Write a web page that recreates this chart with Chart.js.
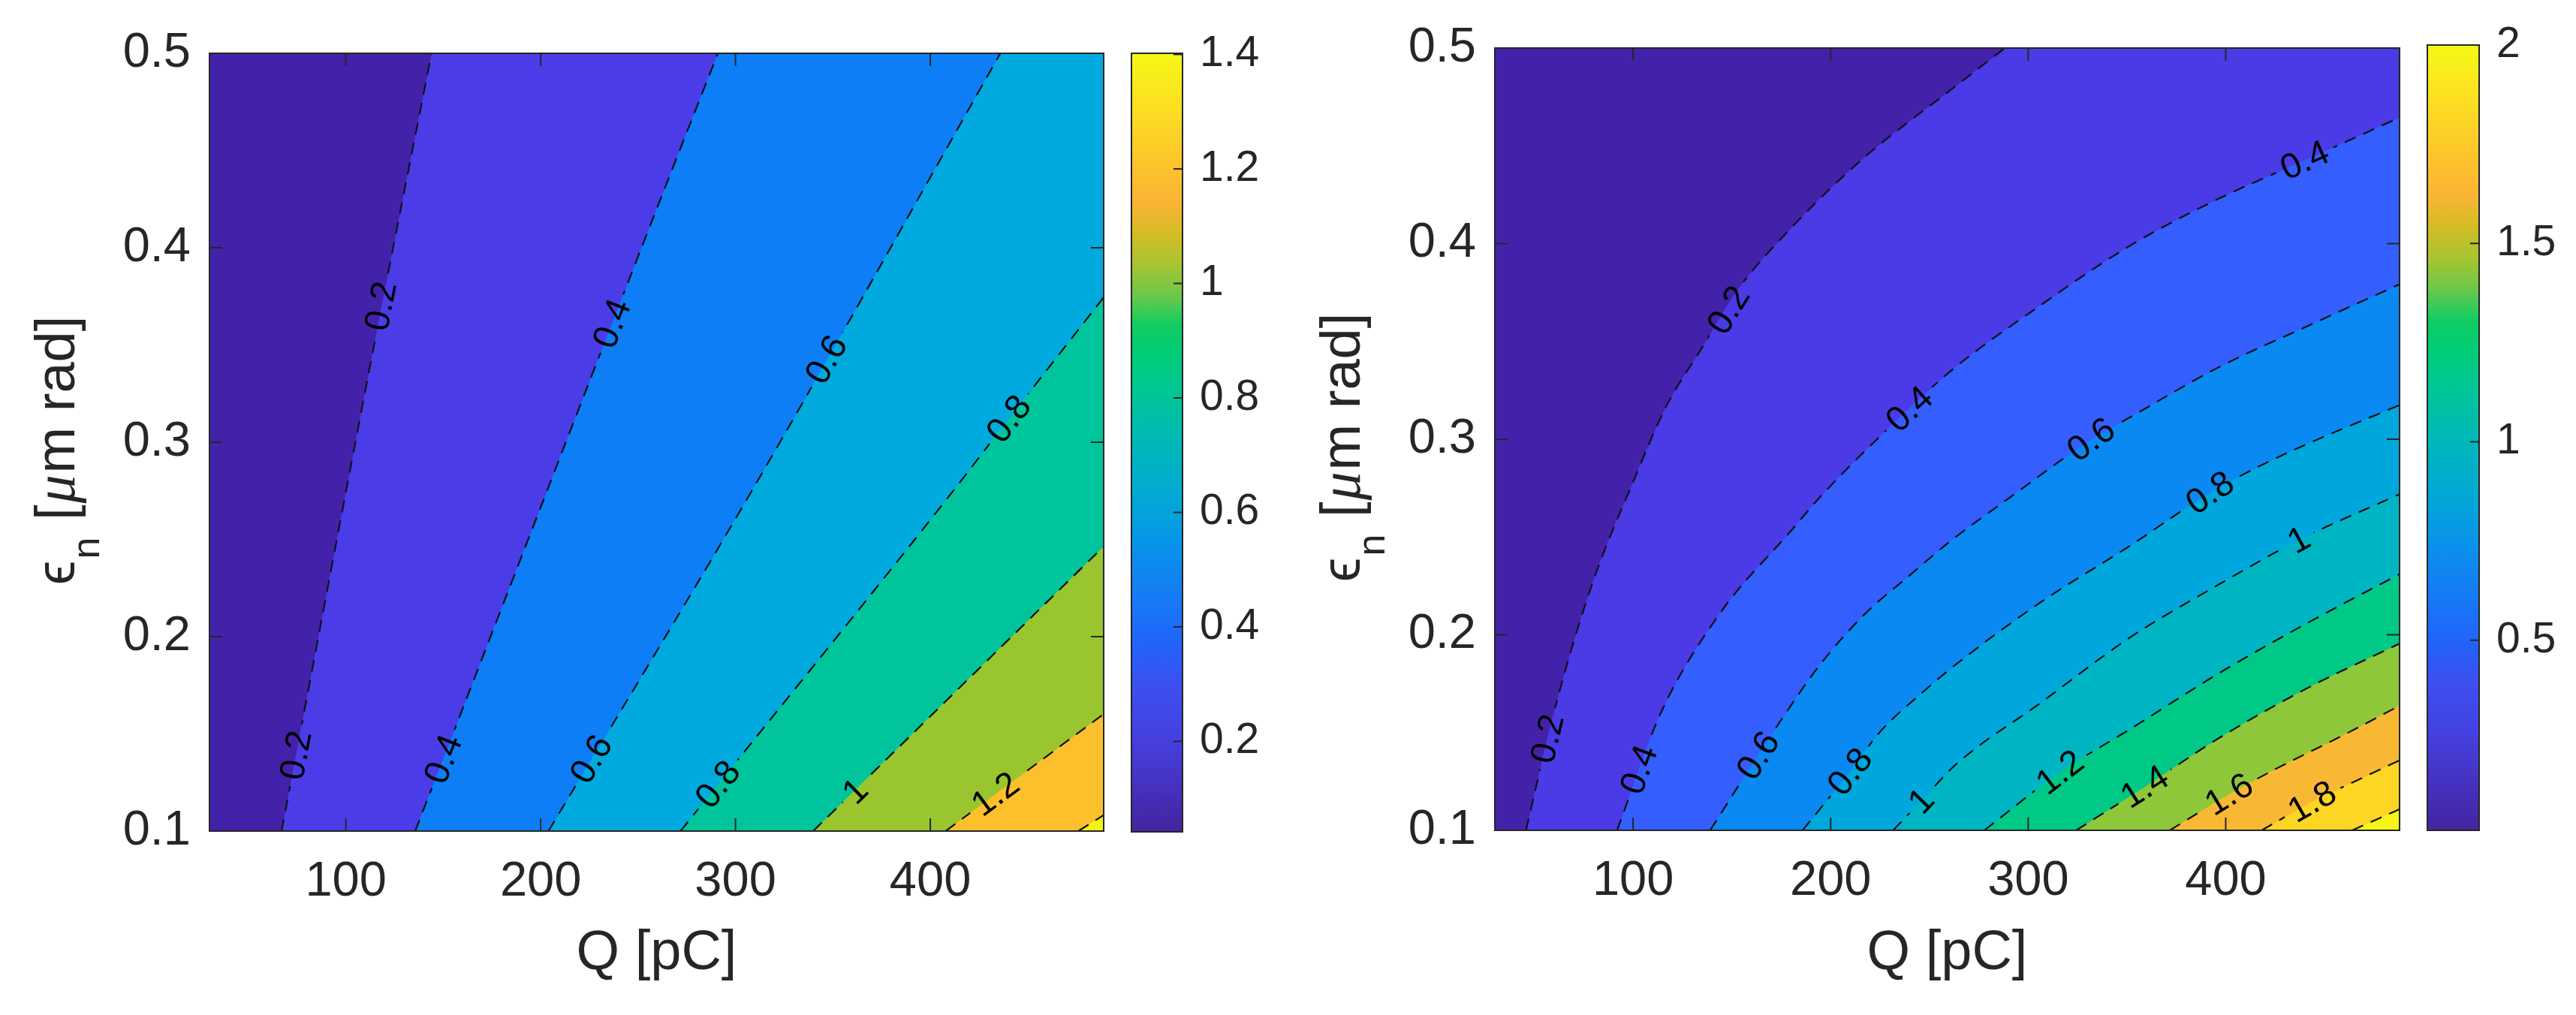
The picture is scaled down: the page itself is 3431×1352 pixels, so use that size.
<!DOCTYPE html>
<html>
<head>
<meta charset="utf-8">
<script src="https://cdn.jsdelivr.net/npm/chart.js@4.4.1/dist/chart.umd.min.js"></script>
<style>
html, body { margin: 0; padding: 0; background: #fff; overflow: hidden; }
#fig { position: relative; width: 3431px; height: 1352px; }
#fig canvas { position: absolute; top: 0; }
</style>
</head>
<body>
<div id="fig">
  <canvas id="leftPlot" width="1490" height="1352" style="left:0"></canvas>
  <canvas id="leftBar" width="250" height="1352" style="left:1490px"></canvas>
  <canvas id="rightPlot" width="1480" height="1352" style="left:1740px"></canvas>
  <canvas id="rightBar" width="211" height="1352" style="left:3220px"></canvas>
</div>
<script>
const FONT = "'Liberation Sans', Arial, 'DejaVu Sans', sans-serif";
const INK = '#262626';

// axes
const qLeftRange = [30, 489];
const qRightRange = [30, 488];
const epsRange = [0.1, 0.5];
const qTicks = [100, 200, 300, 400];
const epsTicks = [0.1, 0.2, 0.3, 0.4, 0.5];

// left panel: contour lines as [Q, eps] points, bottom edge -> top/right edge
const leftLevels = [0.2, 0.4, 0.6, 0.8, 1, 1.2, 1.4];
const leftLines = [
    [[67, 0.1], [114.5, 0.35], [144, 0.5]],
    [[135.6, 0.1], [261.5, 0.425], [291, 0.5]],
    [[204, 0.1], [307, 0.2726], [436, 0.5]],
    [[271.8, 0.1], [409.9, 0.2726], [440.3, 0.312], [489, 0.3745]],
    [[339.9, 0.1], [489, 0.2464]],
    [[407.9, 0.1], [489, 0.1602]],
    [[476, 0.1], [489, 0.1082]]
];
// [level, Q, eps] of each inline label
const leftLabels = [
    [0.2, 118, 0.37], [0.2, 74.4, 0.139],
    [0.4, 236.6, 0.361], [0.4, 150, 0.137],
    [0.6, 346.7, 0.3425], [0.6, 226, 0.137],
    [0.8, 440.3, 0.312], [0.8, 291, 0.124],
    [1, 361.5, 0.1205], [1.2, 433.4, 0.119]
];
const leftBarRange = [0.042, 1.402];
const leftBarTicks = [0.2, 0.4, 0.6, 0.8, 1, 1.2, 1.4];

// right panel
const rightLevels = [0.2, 0.4, 0.6, 0.8, 1, 1.2, 1.4, 1.6, 1.8, 2];
const rightLines = [
    [[45.8, 0.1], [59.6, 0.1593], [79.2, 0.2258], [100.2, 0.2786], [116.6, 0.3165], [134.7, 0.3465],
     [152.7, 0.3761], [179.8, 0.4078], [217.2, 0.4442], [261.3, 0.479], [288.3, 0.5]],
    [[91.9, 0.1], [113.7, 0.1593], [143.7, 0.2106], [179.8, 0.253], [194.8, 0.2706], [224.8, 0.3013],
     [261.3, 0.3353], [306.3, 0.3685], [351.3, 0.3988], [396.5, 0.423], [440, 0.4426], [488, 0.4645]],
    [[139, 0.1], [173.8, 0.1547], [194.8, 0.1849], [217.3, 0.2106], [239.9, 0.2303], [261.3, 0.2484],
     [291.3, 0.2706], [331.9, 0.2998], [351.4, 0.3111], [396.5, 0.3368], [441.5, 0.3579], [488, 0.3792]],
    [[185.8, 0.1], [209.8, 0.13], [224.8, 0.1501], [247.4, 0.1713], [263, 0.1845], [306.3, 0.2166],
     [351.4, 0.2454], [392, 0.2726], [426.5, 0.2908], [488, 0.3175]],
    [[231.6, 0.1], [245.9, 0.115], [263, 0.1333], [306.3, 0.1652], [351.4, 0.1985], [396.5, 0.2257],
     [437, 0.2484], [488, 0.2719]],
    [[277.8, 0.1], [316.1, 0.1297], [351.4, 0.1516], [396.5, 0.1803], [441.5, 0.2061], [488, 0.231]],
    [[324.3, 0.1], [359, 0.1222], [396.5, 0.1471], [441.5, 0.1728], [488, 0.1955]],
    [[371.7, 0.1], [401.7, 0.1184], [426.5, 0.132], [456.5, 0.1471], [488, 0.1637]],
    [[418.2, 0.1], [443.7, 0.1146], [464, 0.1244], [488, 0.1358]],
    [[464, 0.1], [488, 0.1108]]
];
const rightLabels = [
    [0.2, 56.7, 0.1468], [0.2, 148.3, 0.366],
    [0.4, 103, 0.131], [0.4, 239.9, 0.3154], [0.4, 440, 0.4426],
    [0.6, 163.3, 0.1382], [0.6, 331.9, 0.2998],
    [0.8, 209.8, 0.13], [0.8, 392, 0.2726],
    [1, 245.9, 0.115], [1, 437, 0.2484],
    [1.2, 316.1, 0.1297], [1.4, 359, 0.1222], [1.6, 401.7, 0.1184], [1.8, 443.7, 0.1146]
];
const rightBarRange = [0.021, 2.0];
const rightBarTicks = [0.5, 1, 1.5, 2];

// fill colour of each band, lowest first
const leftBandColors = ['#4421a9', '#4a3de8', '#0d7ef6', '#00aade', '#00c49b', '#99c52e', '#fcc02d', '#f3f318'];
const rightBandColors = ['#4421a9', '#4a3be6', '#345efd', '#0a89f3', '#00a7dd', '#00b5c3', '#00c886',
                         '#8fc73b', '#f9b833', '#fcd622', '#f5f51a'];
// colorbar gradient (parula-like), fraction from bottom
const parulaStops = [
    [0, '#44249f'], [0.06, '#4532c0'], [0.12, '#4540df'], [0.19, '#3c50f0'], [0.24, '#2263fa'],
    [0.29, '#1877f6'], [0.36, '#0a90ec'], [0.42, '#03a6d8'], [0.49, '#00b6bc'], [0.56, '#00c598'],
    [0.61, '#00cc78'], [0.65, '#10cd62'], [0.69, '#6dc84a'], [0.73, '#a8c52f'], [0.77, '#d6bb26'],
    [0.81, '#fbb536'], [0.86, '#fdc52c'], [0.93, '#fddf22'], [1, '#f6f816']
];

const fmt = v => String(Number(v.toFixed(3)));
const LABEL_FONT = `47px ${FONT}`;

const distToSeg = (px, py, x0, y0, x1, y1) => {
    const dx = x1 - x0, dy = y1 - y0;
    let t = ((px - x0) * dx + (py - y0) * dy) / (dx * dx + dy * dy || 1);
    t = Math.max(0, Math.min(1, t));
    return Math.hypot(px - (x0 + t * dx), py - (y0 + t * dy));
};

// a line that leaves through the top edge is carried on along its last segment
// past the right edge, so the band below it covers the whole top-right corner
const extendLine = (pts, xmax) => {
    const last = pts[pts.length - 1], prev = pts[pts.length - 2];
    if (last.x >= xmax) return pts;
    const t = (xmax + 1 - last.x) / (last.x - prev.x);
    return pts.concat([{x: xmax + 1, y: last.y + t * (last.y - prev.y)}]);
};

// inward tick marks and the axes box
const boxTicks = (len, sides) => ({
    id: 'boxTicks',
    afterDraw(chart) {
        const {ctx, chartArea: a, scales} = chart;
        ctx.save();
        ctx.strokeStyle = INK;
        ctx.lineWidth = 2;
        ctx.beginPath();
        if (sides.x && scales.x) {
            scales.x.ticks.forEach(t => {
                const p = scales.x.getPixelForValue(t.value);
                ctx.moveTo(p, a.bottom); ctx.lineTo(p, a.bottom - len);
                ctx.moveTo(p, a.top); ctx.lineTo(p, a.top + len);
            });
        }
        scales.y.ticks.forEach(t => {
            const p = scales.y.getPixelForValue(t.value);
            if (sides.left) { ctx.moveTo(a.left, p); ctx.lineTo(a.left + len, p); }
            ctx.moveTo(a.right, p); ctx.lineTo(a.right - len, p);
        });
        ctx.stroke();
        ctx.strokeRect(a.left, a.top, a.right - a.left, a.bottom - a.top);
        ctx.restore();
    }
});

// y title: epsilon_n [mu m rad]
const yTitle = {
    id: 'yTitle',
    afterDraw(chart) {
        const {ctx, chartArea: a} = chart;
        const big = `74px ${FONT}`;
        const parts = [
            ['\u03f5', big, 0], ['n', `52px ${FONT}`, 33], [' [', big, 0],
            ['\u03bc', `italic 76px 'Liberation Serif', serif`, 0], ['m rad]', big, 0]
        ];
        ctx.save();
        ctx.translate(a.left - 180, (a.top + a.bottom) / 2 + 10);
        ctx.rotate(-Math.PI / 2);
        ctx.fillStyle = INK;
        ctx.textBaseline = 'alphabetic';
        const widths = parts.map(([t, f]) => { ctx.font = f; return ctx.measureText(t).width + 2; });
        let x = -widths.reduce((s, w) => s + w, 0) / 2;
        parts.forEach(([t, f, dy], i) => {
            ctx.font = f;
            ctx.fillText(t, x, dy);
            x += widths[i];
        });
        ctx.restore();
    }
};

const contourLabels = (levels, lines, labels, baseColor) => {
    let boxes = [];
    const place = chart => {
        const {ctx, scales: {x, y}} = chart;
        ctx.save();
        ctx.font = LABEL_FONT;
        boxes = labels.map(([lev, q, e]) => {
            const px = x.getPixelForValue(q), py = y.getPixelForValue(e);
            const pts = lines[levels.indexOf(lev)].map(([a, b]) => [x.getPixelForValue(a), y.getPixelForValue(b)]);
            let best = Infinity, ang = 0;
            for (let i = 0; i < pts.length - 1; i++) {
                const d = distToSeg(px, py, ...pts[i], ...pts[i + 1]);
                if (d < best) {
                    best = d;
                    ang = Math.atan2(pts[i + 1][1] - pts[i][1], pts[i + 1][0] - pts[i][0]);
                }
            }
            if (ang > Math.PI / 2) ang -= Math.PI;
            if (ang < -Math.PI / 2) ang += Math.PI;
            const text = fmt(lev);
            return {px, py, ang, text, w: ctx.measureText(text).width};
        });
        ctx.restore();
    };
    return {
        id: 'contourLabels',
        beforeDatasetsDraw(chart) {
            place(chart);
            const {ctx, chartArea: a} = chart;
            ctx.save();
            ctx.fillStyle = baseColor;
            ctx.fillRect(a.left, a.top, a.right - a.left, a.bottom - a.top);
            ctx.restore();
        },
        beforeDatasetDraw(chart, args) {
            if (!chart.data.datasets[args.index].contourLine) return;
            const {ctx} = chart;
            ctx.save();
            ctx.beginPath();
            ctx.rect(0, 0, chart.width, chart.height);
            boxes.forEach(b => {
                const hw = b.w / 2 + 9, hh = 20;
                const c = Math.cos(b.ang), s = Math.sin(b.ang);
                [[-hw, -hh], [hw, -hh], [hw, hh], [-hw, hh]].forEach(([u, v], i) => {
                    const X = b.px + u * c - v * s, Y = b.py + u * s + v * c;
                    if (i === 0) ctx.moveTo(X, Y); else ctx.lineTo(X, Y);
                });
                ctx.closePath();
            });
            ctx.clip('evenodd');
        },
        afterDatasetDraw(chart, args) {
            if (chart.data.datasets[args.index].contourLine) chart.ctx.restore();
        },
        afterDatasetsDraw(chart) {
            const {ctx} = chart;
            ctx.save();
            ctx.font = LABEL_FONT;
            ctx.fillStyle = '#000';
            ctx.textAlign = 'center';
            ctx.textBaseline = 'middle';
            boxes.forEach(b => {
                ctx.save();
                ctx.translate(b.px, b.py);
                ctx.rotate(b.ang);
                ctx.fillText(b.text, 0, 2);
                ctx.restore();
            });
            ctx.restore();
        }
    };
};

const contourPanel = (id, range, levels, lines, labels, colors, layout) => {
    const datasets = [];
    lines.forEach((line, k) => {
        const pts = extendLine(line.map(([x, y]) => ({x, y})), range[1]);
        datasets.push({
            data: pts, fill: 'start', backgroundColor: colors[k + 1], cubicInterpolationMode: 'monotone',
            borderColor: 'transparent', borderWidth: 0, pointRadius: 0, order: 100 - k
        });
        datasets.push({
            data: pts, fill: false, borderColor: '#111', borderWidth: 2.2, borderDash: [16, 11],
            cubicInterpolationMode: 'monotone', pointRadius: 0, order: 0, contourLine: true
        });
    });
    return new Chart(document.getElementById(id), {
        type: 'line',
        data: {datasets},
        options: {
            responsive: false,
            animation: false,
            events: [],
            layout: {padding: layout.pad},
            plugins: {legend: {display: false}, tooltip: {enabled: false}},
            scales: {
                x: {
                    type: 'linear', min: range[0], max: range[1],
                    afterBuildTicks: s => { s.ticks = qTicks.map(value => ({value})); },
                    afterFit: s => { s.height = layout.xHeight; },
                    grid: {display: false, drawTicks: false},
                    border: {display: false},
                    ticks: {font: {family: FONT, size: 65}, color: INK, padding: 29, maxRotation: 0, autoSkip: false, callback: fmt},
                    title: {display: true, text: 'Q [pC]', color: INK, font: {family: FONT, size: 74}, padding: {top: 0, bottom: 37}}
                },
                y: {
                    type: 'linear', min: epsRange[0], max: epsRange[1],
                    afterBuildTicks: s => { s.ticks = epsTicks.map(value => ({value})); },
                    afterFit: s => { s.width = layout.yWidth; },
                    grid: {display: false, drawTicks: false},
                    border: {display: false},
                    ticks: {font: {family: FONT, size: 65}, color: INK, padding: 25, autoSkip: false, callback: fmt}
                }
            }
        },
        plugins: [contourLabels(levels, lines, labels, colors[0]), boxTicks(17, {x: true, left: true}), yTitle]
    });
};

const colorbar = (id, range, ticks, layout) => new Chart(document.getElementById(id), {
    type: 'bar',
    data: {
        labels: [''],
        datasets: [{
            data: [range],
            barPercentage: 1,
            categoryPercentage: 1,
            borderWidth: 0,
            inflateAmount: 0,
            backgroundColor: c => {
                const chart = c.chart;
                if (!chart.chartArea) return parulaStops[0][1];
                const y = chart.scales.y;
                const g = chart.ctx.createLinearGradient(0, y.getPixelForValue(range[0]), 0, y.getPixelForValue(range[1]));
                parulaStops.forEach(([f, col]) => g.addColorStop(f, col));
                return g;
            }
        }]
    },
    options: {
        responsive: false,
        animation: false,
        events: [],
        layout: {padding: layout.pad},
        plugins: {legend: {display: false}, tooltip: {enabled: false}},
        scales: {
            x: {display: false},
            y: {
                position: 'right', min: range[0], max: range[1],
                afterBuildTicks: s => { s.ticks = ticks.map(value => ({value})); },
                afterFit: s => { s.width = layout.yWidth; },
                grid: {display: false, drawTicks: false},
                border: {display: false},
                ticks: {font: {family: FONT, size: 57}, color: INK, padding: 23, autoSkip: false, callback: fmt}
            }
        }
    },
    plugins: [boxTicks(12, {x: false, left: false})]
});

contourPanel('leftPlot', qLeftRange, leftLevels, leftLines, leftLabels, leftBandColors,
    {pad: {left: 0, right: 20, top: 71, bottom: 0}, yWidth: 279, xHeight: 245});
colorbar('leftBar', leftBarRange, leftBarTicks,
    {pad: {left: 17, right: 0, top: 71, bottom: 244}, yWidth: 165});
contourPanel('rightPlot', qRightRange, rightLevels, rightLines, rightLabels, rightBandColors,
    {pad: {left: 0, right: 24, top: 60, bottom: 0}, yWidth: 251, xHeight: 246});
colorbar('rightBar', rightBarRange, rightBarTicks,
    {pad: {left: 13, right: 0, top: 60, bottom: 246}, yWidth: 129});
</script>
</body>
</html>
